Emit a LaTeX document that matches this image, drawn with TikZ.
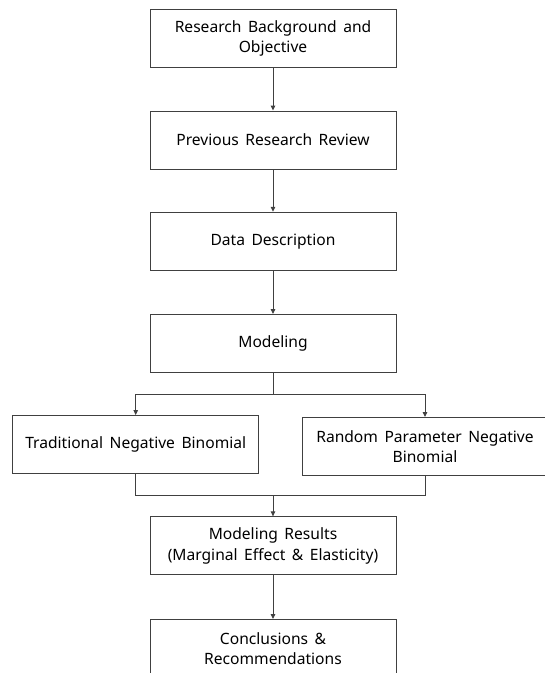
\documentclass[tikz,border=0pt]{standalone}
\usepackage{fontspec}
\setmainfont{Noto Sans}[WordSpace={1.6,0,0}]
\usetikzlibrary{arrows.meta}
\definecolor{linegray}{HTML}{404040}
\begin{document}
\begin{tikzpicture}[x=1pt,y=-1pt,
  box/.style={draw=linegray,line width=0.9pt,minimum width=246pt,minimum height=58pt,
    inner sep=0pt,align=center,font=\fontsize{15.6}{20.5}\selectfont,text=black},
  conn/.style={draw=linegray,line width=0.9pt},
  arr/.style={conn,-{Triangle[length=5pt,width=4.5pt]}}]
\useasboundingbox (0,0) rectangle (545,673);
\clip (0,0) rectangle (545,673);
\node[box] (b1) at (273,38.5) {Research Background and\\Objective};
\node[box] (b2) at (273,140) {Previous Research Review};
\node[box] (b3) at (273,241.2) {Data Description};
\node[box] (b4) at (273,343.5) {Modeling};
\node[box] (l) at (135.7,444.5) {Traditional Negative Binomial};
\node[box] (r) at (425,446.5) {Random Parameter Negative\\Binomial};
\node[box] (b5) at (273,545.8) {Modeling Results\\(Marginal Effect \& Elasticity)};
\node[box,anchor=north] (b6) at (273,619) {Conclusions \&\\Recommendations};
\coordinate (split) at (273,394);
\coordinate (merge) at (273,495.3);
\draw[arr] (b1) -- (b2);
\draw[arr] (b2) -- (b3);
\draw[arr] (b3) -- (b4);
\draw[conn] (b4.south) -- (split);
\draw[arr] (split) -| (l.north);
\draw[arr] (split) -| (r.north);
\draw[conn] (l.south) |- (merge);
\draw[conn] (r.south) |- (merge);
\draw[arr] (merge) -- (b5.north);
\draw[arr] (b5) -- (b6);
\end{tikzpicture}
\end{document}
